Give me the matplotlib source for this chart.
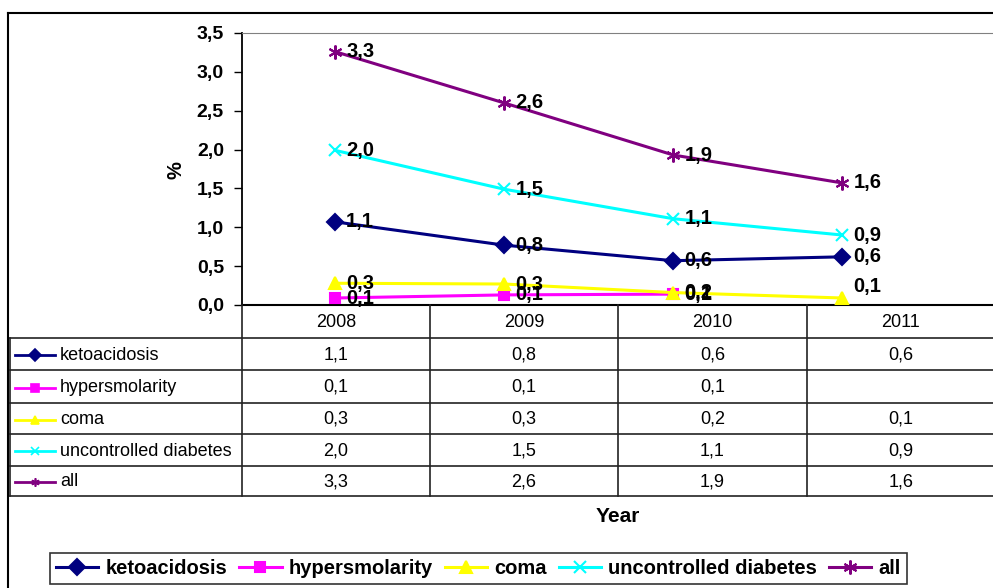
import matplotlib.pyplot as plt
from matplotlib.lines import Line2D

plt.rcParams['font.family'] = ['Liberation Sans', 'DejaVu Sans']

years = ['2008', '2009', '2010', '2011']
names = ['ketoacidosis', 'hypersmolarity', 'coma', 'uncontrolled diabetes', 'all']
keto = [1.07, 0.77, 0.57, 0.62]
hyper = [0.09, 0.13, 0.14, None]
coma = [0.28, 0.27, 0.16, 0.09]
uncontrolled = [1.99, 1.49, 1.11, 0.90]
total = [3.26, 2.60, 1.93, 1.57]

series = [keto, hyper, coma, uncontrolled, total]
colors = ['#000080', '#FF00FF', '#FFFF00', '#00FFFF', '#800080']
markers = ['D', 's', '^', 'x', (6, 2, 0)]
msizes = [8, 7, 9, 9, 10]


def fmt(v):
    return f'{v:.1f}'.replace('.', ',')


W, H = 993, 588
fig = plt.figure(figsize=(W / 100, H / 100), dpi=100)

# main plot area (pixel layout)
left, right, top, bottom = 242, 993, 33, 305
ax = fig.add_axes([left / W, 1 - bottom / H, (right - left) / W, (bottom - top) / H])
x = list(range(len(years)))
handles = []
for vals, name, c, m, ms in zip(series, names, colors, markers, msizes):
    xs = [i for i, v in zip(x, vals) if v is not None]
    ys = [v for v in vals if v is not None]
    h, = ax.plot(xs, ys, color=c, lw=2.2, marker=m, ms=ms, mew=1.5,
                 label=name, clip_on=False, zorder=3)
    handles.append(h)
    for xi, yi in zip(xs, ys):
        dy = 8 if (xi == 3 and yi < 0.15) else 0
        ax.annotate(fmt(yi), (xi, yi), xytext=(8, dy), textcoords='offset points',
                    ha='left', va='center', fontsize=14.5, fontweight='bold', zorder=4)

ax.set_xlim(-0.55, 3.89)
ax.set_ylim(0, 3.5)
ax.set_yticks([0, 0.5, 1, 1.5, 2, 2.5, 3, 3.5])
ax.set_yticklabels([fmt(t) for t in ax.get_yticks()], fontsize=14, fontweight='bold')
ax.set_xticks([])
ax.tick_params(axis='y', length=6, width=1, pad=7, direction='out')
ax.spines['right'].set_visible(False)
ax.spines['top'].set_color('#808080')
ax.spines['left'].set_linewidth(1.3)
ax.spines['bottom'].set_linewidth(1.5)

# overlay in pixel coordinates for frame and data table
ov = fig.add_axes([0, 0, 1, 1])
ov.set_xlim(0, W)
ov.set_ylim(H, 0)
ov.axis('off')

# outer chart border
ov.plot([8, W], [13, 13], color='black', lw=1.5)
ov.plot([8, 8], [13, H], color='black', lw=1.5)

fig.text(176 / W, 1 - 170 / H, '%', rotation=90, ha='center', va='center',
         fontsize=14.5, fontweight='bold')

# data table
col_edges = [242, 430, 618, 807, 995]
row_edges = [305, 338, 370, 403, 434, 466, 496]
tcol = '#222222'
for xe in col_edges:
    ov.plot([xe, xe], [row_edges[0], row_edges[-1]], color=tcol, lw=1.2)
ov.plot([10, 10], [row_edges[1], row_edges[-1]], color=tcol, lw=1.2)
for ye in row_edges[1:]:
    ov.plot([10, W], [ye, ye], color=tcol, lw=1.2)

for j, yr in enumerate(years):
    cx = (col_edges[j] + col_edges[j + 1]) / 2
    ov.text(cx, (row_edges[0] + row_edges[1]) / 2 + 1, yr, ha='center', va='center', fontsize=13)

for i, (vals, name, c, m) in enumerate(zip(series, names, colors, markers)):
    cy = (row_edges[i + 1] + row_edges[i + 2]) / 2 + 1
    ov.add_line(Line2D([15, 55], [cy, cy], color=c, lw=2))
    ov.plot([35], [cy], marker=m, color=c, ms=6, mew=1.2)
    ov.text(60, cy, name, ha='left', va='center', fontsize=13)
    for j, v in enumerate(vals):
        if v is None:
            continue
        cx = (col_edges[j] + col_edges[j + 1]) / 2
        ov.text(cx, cy, fmt(v), ha='center', va='center', fontsize=13)

fig.text(618 / W, 1 - 517 / H, 'Year', ha='center', va='center',
         fontsize=15, fontweight='bold')

leg = fig.legend(handles=handles, loc='upper left', bbox_to_anchor=(50 / W, 1 - 553 / H),
                 ncol=5, frameon=True, fancybox=False, edgecolor='black',
                 prop={'weight': 'bold', 'size': 14.5}, handlelength=2.1,
                 handletextpad=0.35, columnspacing=0.6, borderpad=0.3,
                 borderaxespad=0)
leg.get_frame().set_linewidth(1.2)

fig.savefig('out.png', dpi=100)
